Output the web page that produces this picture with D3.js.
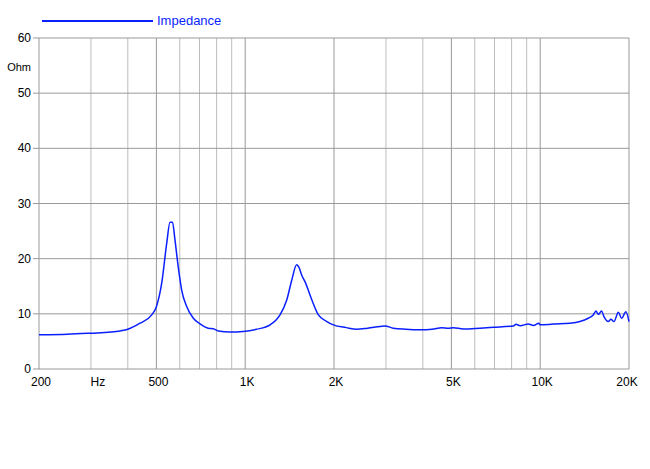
<!DOCTYPE html>
<html><head><meta charset="utf-8">
<script src="https://cdn.jsdelivr.net/npm/d3@7"></script>
<style>body{margin:0;background:#fff}svg{display:block}text{font-family:"Liberation Sans",Arial,Helvetica,sans-serif}</style>
</head><body><svg id="c" width="650" height="469"></svg>
<script>
const freqs = [200,250,300,350,376,400,440,482,500,521,542,556,567,578,593,609,634,667,703,750,780,811,887,984,1093,1214,1312,1383,1438,1494,1525,1555,1596,1683,1771,1880,1991,2200,2389,2600,2866,2977,3177,3500,3920,4300,4640,4883,5075,5490,6250,6940,8110,8280,8550,9120,9490,9890,10000,11070,12610,13640,14550,15130,15460,15740,16150,16450,17010,17370,17790,18400,18880,19530,20000];
const ohms  = [6.2,6.3,6.5,6.7,6.9,7.2,8.3,9.8,11.3,15.5,22.8,26.6,26.6,23.4,18.5,14.3,11.3,9.2,8.2,7.4,7.3,6.9,6.7,6.8,7.2,8.0,9.8,12.5,16.1,18.9,18.3,17.0,15.8,12.5,9.8,8.7,8.0,7.5,7.2,7.4,7.7,7.8,7.4,7.2,7.1,7.2,7.5,7.4,7.5,7.25,7.4,7.55,7.8,8.1,7.85,8.15,7.9,8.3,8.0,8.15,8.3,8.6,9.2,9.8,10.5,9.9,10.5,9.5,8.6,9.0,8.6,10.3,9.2,10.4,8.6];
const yTicks = [0,10,20,30,40,50,60];
const xMajor = [200,500,1000,2000,5000,10000,20000];
const xMinor = [300,400,600,700,800,900,3000,4000,6000,7000,8000,9000];
const xLabels = [[200,"200"],[300,"Hz"],[500,"500"],[1000,"1K"],[2000,"2K"],[5000,"5K"],[10000,"10K"],[20000,"20K"]];
const seriesName = "Impedance";

const svg = d3.select("#c");
const x = d3.scaleLog().domain([200,20000]).range([39,629]);
const y = d3.scaleLinear().domain([0,60]).range([369,38]);
const blue = "#0a1fff";

// vertical grid
svg.selectAll(".vmin").data(xMinor).enter().append("line")
  .attr("x1",d=>x(d)).attr("x2",d=>x(d)).attr("y1",38).attr("y2",369)
  .attr("stroke","#bdbdbd").attr("stroke-width",1);
svg.selectAll(".vmaj").data(xMajor).enter().append("line")
  .attr("x1",d=>x(d)).attr("x2",d=>x(d)).attr("y1",38).attr("y2",369)
  .attr("stroke","#999").attr("stroke-width",1);
// horizontal grid
svg.selectAll(".h").data(yTicks).enter().append("line")
  .attr("x1",33).attr("x2",629).attr("y1",d=>y(d)).attr("y2",d=>y(d))
  .attr("stroke","#999").attr("stroke-width",1);

// y labels
svg.selectAll(".yl").data(yTicks).enter().append("text")
  .attr("x",31).attr("y",d=>y(d)+4).attr("text-anchor","end")
  .attr("font-size",12).attr("fill","#000").text(d=>d);
svg.append("text").attr("x",31).attr("y",71).attr("text-anchor","end")
  .attr("font-size",11).attr("fill","#000").text("Ohm");

// x labels
svg.selectAll(".xl").data(xLabels).enter().append("text")
  .attr("x",d=>x(d[0])+(d[1]==="Hz"?7:(d[0]===20000?-2:2))).attr("y",386).attr("text-anchor","middle")
  .attr("font-size",12).attr("fill","#000").text(d=>d[1]);

// curve
const data = freqs.map((f,i)=>[f,ohms[i]]);
const line = d3.line().x(d=>x(d[0])).y(d=>y(d[1])).curve(d3.curveMonotoneX);
svg.append("path").datum(data).attr("d",line).attr("fill","none")
  .attr("stroke",blue).attr("stroke-width",1.5);

// legend
svg.append("line").attr("x1",42).attr("x2",153).attr("y1",21).attr("y2",21)
  .attr("stroke",blue).attr("stroke-width",2);
svg.append("text").attr("x",157).attr("y",25).attr("font-size",13)
  .attr("fill",blue).text(seriesName);
</script></body></html>
